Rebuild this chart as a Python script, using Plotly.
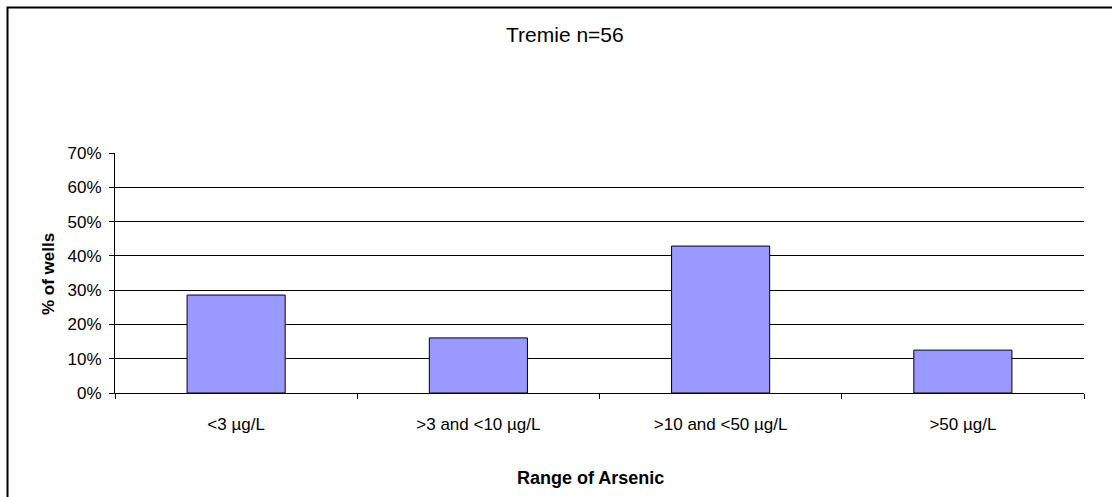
import plotly.graph_objects as go

categories = ["<3 µg/L", ">3 and <10 µg/L", ">10 and <50 µg/L", ">50 µg/L"]
counts = [16, 9, 24, 7]
n_total = 56
percent = [c / n_total for c in counts]
y_ticks = [0, 0.1, 0.2, 0.3, 0.4, 0.5, 0.6, 0.7]
y_tick_labels = ["0%", "10%", "20%", "30%", "40%", "50%", "60%", "70%"]

W, H = 1112, 497
ml, mr, mt, mb = 115, 28, 153, 104
pw, ph = W - ml - mr, H - mt - mb

def px(x):
    return (x - ml) / pw

def py(y):
    return (H - mb - y) / ph

FONT = "Liberation Sans, Arial, sans-serif"

fig = go.Figure(go.Bar(
    x=categories, y=percent,
    marker=dict(color="#9999FF", line=dict(color="black", width=1)),
    width=0.405,
))

fig.update_layout(
    width=W, height=H,
    margin=dict(l=ml, r=mr, t=mt, b=mb),
    paper_bgcolor="white", plot_bgcolor="white",
    showlegend=False,
    font=dict(family=FONT, size=17, color="black"),
)
fig.update_xaxes(
    type="category", tickson="boundaries", ticks="outside", ticklen=5,
    tickcolor="black", showline=True, linecolor="black", linewidth=1,
    showgrid=False, tickfont=dict(family=FONT, size=17), ticklabelstandoff=16,
)
fig.update_yaxes(
    range=[0, 0.7], tickvals=y_ticks, ticktext=y_tick_labels,
    ticks="outside", ticklen=5, tickcolor="black",
    showline=True, linecolor="black", linewidth=1,
    showgrid=True, gridcolor="black", gridwidth=1, zeroline=False,
    tickfont=dict(family=FONT, size=17), ticklabelstandoff=4,
)

fig.add_annotation(text="Tremie n=56", x=px(565), y=py(34), xref="paper", yref="paper",
                   showarrow=False, font=dict(family=FONT, size=21), xanchor="center", yanchor="middle")
fig.add_annotation(text="<b>Range of Arsenic</b>", x=px(590), y=py(478), xref="paper", yref="paper",
                   showarrow=False, font=dict(family=FONT, size=18), xanchor="center", yanchor="middle")
fig.add_annotation(text="<b>% of wells</b>", x=px(48), y=py(274), xref="paper", yref="paper",
                   showarrow=False, textangle=-90, font=dict(family=FONT, size=17),
                   xanchor="center", yanchor="middle")

fig.add_shape(type="rect", xref="paper", yref="paper",
              x0=px(7.5), x1=px(1130), y0=py(520), y1=py(7.5),
              line=dict(color="black", width=2), layer="below")

fig.write_html("out.html")
